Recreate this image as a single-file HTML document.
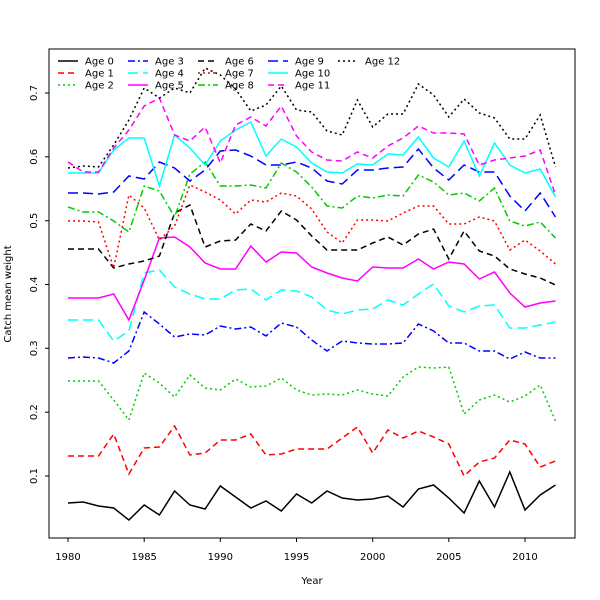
<!DOCTYPE html>
<html><head><style>body{margin:0;background:#fff}svg{display:block}text{font-family:"DejaVu Sans","Liberation Sans",sans-serif;font-size:10px;fill:#000}</style></head>
<body>
<svg width="600" height="600" viewBox="0 0 600 600" xmlns="http://www.w3.org/2000/svg">
<rect x="49" y="49" width="526" height="489" fill="none" stroke="#000" stroke-width="1"/>
<g stroke="#000">
<line x1="68" y1="538" x2="68" y2="542"/><line x1="144.2" y1="538" x2="144.2" y2="542"/><line x1="220.3" y1="538" x2="220.3" y2="542"/><line x1="296.5" y1="538" x2="296.5" y2="542"/><line x1="372.7" y1="538" x2="372.7" y2="542"/><line x1="448.8" y1="538" x2="448.8" y2="542"/><line x1="525" y1="538" x2="525" y2="542"/>
<line x1="45" y1="476" x2="49" y2="476"/><line x1="45" y1="412.2" x2="49" y2="412.2"/><line x1="45" y1="348.3" x2="49" y2="348.3"/><line x1="45" y1="284.5" x2="49" y2="284.5"/><line x1="45" y1="220.7" x2="49" y2="220.7"/><line x1="45" y1="156.8" x2="49" y2="156.8"/><line x1="45" y1="93" x2="49" y2="93"/>
</g>
<g text-anchor="middle">
<text x="68" y="560">1980</text><text x="144.2" y="560">1985</text><text x="220.3" y="560">1990</text><text x="296.5" y="560">1995</text><text x="372.7" y="560">2000</text><text x="448.8" y="560">2005</text><text x="525" y="560">2010</text>
<text x="312" y="584">Year</text>
<text transform="translate(37,476) rotate(-90)">0.1</text>
<text transform="translate(37,412.2) rotate(-90)">0.2</text>
<text transform="translate(37,348.3) rotate(-90)">0.3</text>
<text transform="translate(37,284.5) rotate(-90)">0.4</text>
<text transform="translate(37,220.7) rotate(-90)">0.5</text>
<text transform="translate(37,156.8) rotate(-90)">0.6</text>
<text transform="translate(37,93) rotate(-90)">0.7</text>
<text transform="translate(11,294) rotate(-90)">Catch mean weight</text>
</g>
<g id="series" fill="none" stroke-width="1.5"></g>
<g id="legend"></g>
<script>
const data=[
["#000","",[503,502,506,508,520,505,515,491,505,509,486,497,508,501,511,494,503,491,498,500,499,496,507,489,485,498,513,481,507,472,510,495,485]],
["#f00","6,4",[456,456,456,434,474,448,447,426,455,453,440,440,434,455,454,449,449,449,438,427,453,430,438,431,437,444,476,462,458,440,444,467,461]],
["#0c0","2,3",[381,381,381,400,420,373,383,397,375,388,390,379,387,386,378,390,395,394,395,390,394,396,377,367,368,367,414,400,395,402,396,385,421]],
["#00f","7,3,2,3",[358,357,358,363,351,312,324,337,334,335,326,329,327,336,323,327,340,351,341,343,344,344,343,324,331,343,343,351,351,359,352,358,358]],
["#0ff","10,5",[320,320,320,341,331,273,270,287,294,299,299,290,289,300,290,291,297,310,314,310,309,300,305,294,284,306,312,306,305,328,328,325,322]],
["#f0f","",[298,298,298,294,320,280,238,237,247,263,269,269,246,262,252,253,267,273,278,281,267,268,268,259,269,262,264,279,272,293,307,303,301]],
["#000","6,4",[249,249,249,268,264,261,256,213,205,247,241,240,224,231,211,220,236,250,250,250,243,237,245,234,229,259,231,251,256,269,274,278,285]],
["#f00","2,3",[221,221,222,268,195,208,240,226,185,192,200,214,200,202,193,196,209,232,243,220,220,221,213,206,206,224,224,217,221,250,240,251,264]],
["#0c0","7,3,2,3",[207,212,212,221,232,186,191,217,174,162,186,186,185,188,163,172,187,206,208,196,198,195,196,175,182,195,193,201,188,221,226,222,238]],
["#00f","10,5",[193,193,194,192,176,179,162,168,181,170,151,150,156,165,165,162,168,181,184,170,170,168,167,149,168,180,165,172,172,196,211,193,217]],
["#0ff","",[173,173,173,150,138,138,186,135,148,165,141,130,122,156,139,147,163,172,173,164,165,154,155,137,158,167,141,176,143,165,173,169,197]],
["#f0f","6,4",[162,172,172,148,130,106,98,135,141,127,163,125,117,126,106,136,152,160,161,152,158,146,138,126,133,133,134,165,160,158,156,150,195]],
["#000","2,3",[168,166,167,145,120,88,98,88,93,68,75,89,111,105,86,110,112,131,135,100,127,114,114,84,95,117,99,113,118,139,139,115,167]]
];
const NS="http://www.w3.org/2000/svg";
const g=document.getElementById("series"),lg=document.getElementById("legend");
data.forEach((d,k)=>{
 const p=document.createElementNS(NS,"polyline");
 p.setAttribute("points",d[2].map((y,i)=>(68+15.233*i).toFixed(1)+","+y).join(" "));
 p.setAttribute("stroke",d[0]);if(d[1])p.setAttribute("stroke-dasharray",d[1]);
 g.appendChild(p);
 const c=Math.floor(k/3),r=k%3,x=58+70*c,y=61+12*r;
 const l=document.createElementNS(NS,"line");
 l.setAttribute("x1",x);l.setAttribute("x2",x+20);l.setAttribute("y1",y);l.setAttribute("y2",y);
 l.setAttribute("stroke",d[0]);l.setAttribute("stroke-width","1.5");if(d[1])l.setAttribute("stroke-dasharray",d[1]);
 lg.appendChild(l);
 const t=document.createElementNS(NS,"text");
 t.setAttribute("x",x+27);t.setAttribute("y",y+3.5);t.textContent="Age "+k;
 lg.appendChild(t);
});
</script>
</svg>
</body></html>
